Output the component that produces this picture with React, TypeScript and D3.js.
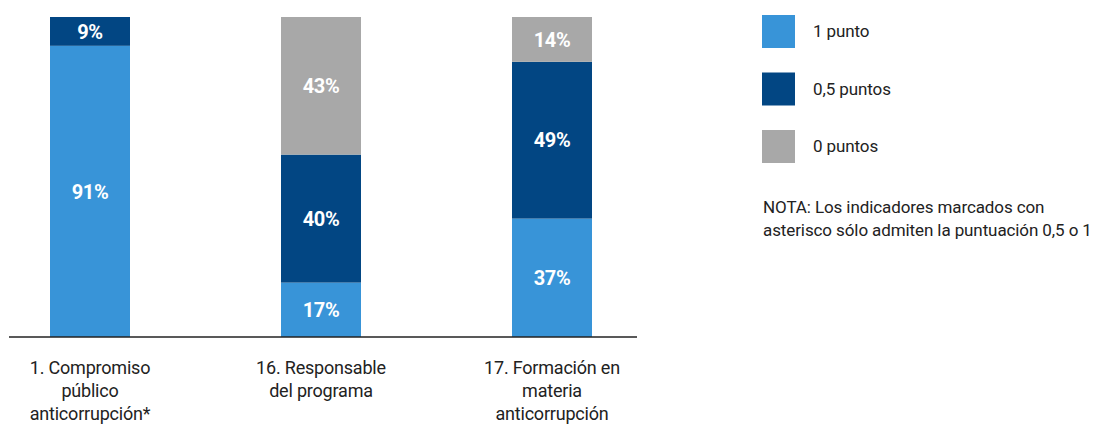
import React from "react";
import * as d3 from "d3";

const categories = [
  ["1. Compromiso", "público", "anticorrupción*"],
  ["16. Responsable", "del programa"],
  ["17. Formación en", "materia", "anticorrupción"],
];
const series = ["1 punto", "0,5 puntos", "0 puntos"];
const onePoint = [91, 17, 37];
const halfPoint = [9, 40, 49];
const zeroPoint = [0, 43, 14];
const colors = ["#3894d8", "#024683", "#a8a8a8"];
const note = ["NOTA: Los indicadores marcados con", "asterisco sólo admiten la puntuación 0,5 o 1"];

const FONT = "'Roboto', sans-serif";

export default function App() {
  const W = 1099, H = 430;
  const top = 17, base = 337;
  const x = d3.scaleBand<number>().domain([0, 1, 2]).range([50, 592]).paddingInner(0.6537).paddingOuter(0);
  const y = d3.scaleLinear().domain([0, 100]).range([base, top]);
  const rows = [0, 1, 2].map((i) => ({ i, s0: onePoint[i], s1: halfPoint[i], s2: zeroPoint[i] }));
  const stack = d3.stack<any>().keys(["s0", "s1", "s2"])(rows);
  const legendY = d3.scalePoint<number>().domain([0, 1, 2]).range([15, 130]);

  return (
    <svg width={W} height={H} style={{ position: "absolute", left: 0, top: 0 }} fontFamily={FONT}>
      {stack.map((layer, k) =>
        layer.map((seg, i) => {
          const v = seg[1] - seg[0];
          if (v <= 0) return null;
          const y0 = y(seg[1]);
          const y1 = y(seg[0]);
          return (
            <g key={`${k}-${i}`}>
              <rect x={x(i)} y={y0} width={x.bandwidth()} height={y1 - y0} fill={colors[k]} />
              <text
                x={(x(i) as number) + x.bandwidth() / 2}
                y={(y0 + y1) / 2}
                dy="0.36em"
                textAnchor="middle"
                fill="#fff"
                fontWeight="bold"
                fontSize={20}
                letterSpacing={-0.4}
              >
                {v}%
              </text>
            </g>
          );
        })
      )}
      <line x1={9} x2={637} y1={base} y2={base} stroke="#222" strokeWidth={1.5} />
      {categories.map((lines, i) => (
        <text key={i} textAnchor="middle" fontSize={18} letterSpacing={-0.2} fill="#222">
          {lines.map((l, j) => (
            <tspan key={j} x={(x(i) as number) + x.bandwidth() / 2} y={374 + j * 23}>
              {l}
            </tspan>
          ))}
        </text>
      ))}
      {series.map((s, k) => (
        <g key={s}>
          <rect x={762} y={legendY(k)} width={33} height={33} fill={colors[k]} />
          <text x={813} y={(legendY(k) as number) + 16.5} dy="0.35em" fontSize={17} letterSpacing={-0.1} fill="#222">
            {s}
          </text>
        </g>
      ))}
      <text fontSize={17} letterSpacing={-0.1} fill="#222">
        {note.map((l, j) => (
          <tspan key={j} x={763} y={213 + j * 22.5}>
            {l}
          </tspan>
        ))}
      </text>
    </svg>
  );
}
